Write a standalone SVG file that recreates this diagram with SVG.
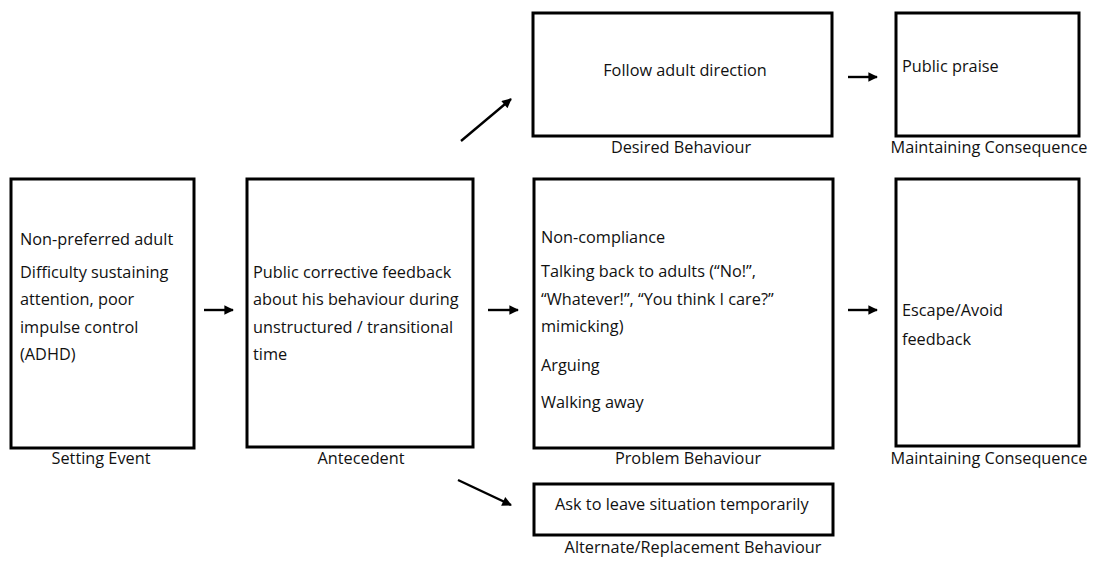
<svg xmlns="http://www.w3.org/2000/svg" width="1094" height="561" viewBox="0 0 1094 561">
<style>
.box{fill:#fff;stroke:#000;stroke-width:3}
text{font-family:"Open Sans","Liberation Sans",sans-serif;font-size:16.3px;fill:#111}
.lbl{text-anchor:middle}
.c{stroke:#000;stroke-width:2.4;fill:none;marker-end:url(#ah)}
</style>
<defs>
<marker id="ah" viewBox="0 0 10 10" refX="9" refY="5" markerWidth="4.5" markerHeight="4" orient="auto" markerUnits="strokeWidth">
<path d="M0,0 L10,5 L0,10 z" fill="#000"/>
</marker>
</defs>
<rect width="1094" height="561" fill="#fff"/>
<g id="setting-event">
<rect class="box" x="11" y="179" width="183" height="269"/>
<text x="20" y="245">Non-preferred adult</text>
<text x="20" y="278">Difficulty sustaining</text>
<text x="20" y="305">attention, poor</text>
<text x="20" y="333">impulse control</text>
<text x="20" y="360">(ADHD)</text>
<text class="lbl" x="101" y="464">Setting Event</text>
</g>
<g id="antecedent">
<rect class="box" x="247" y="179" width="226" height="268"/>
<text x="253" y="278">Public corrective feedback</text>
<text x="253" y="305">about his behaviour during</text>
<text x="253" y="333">unstructured / transitional</text>
<text x="253" y="360">time</text>
<text class="lbl" x="361" y="464">Antecedent</text>
</g>
<g id="problem-behaviour">
<rect class="box" x="534" y="179" width="299" height="269"/>
<text x="541" y="243">Non-compliance</text>
<text x="541" y="277">Talking back to adults (“No!”,</text>
<text x="541" y="305">“Whatever!”, “You think I care?”</text>
<text x="541" y="332">mimicking)</text>
<text x="541" y="371">Arguing</text>
<text x="541" y="408">Walking away</text>
<text class="lbl" x="688" y="464">Problem Behaviour</text>
</g>
<g id="desired-behaviour">
<rect class="box" x="533" y="13" width="299" height="123"/>
<text class="lbl" x="685" y="76">Follow adult direction</text>
<text class="lbl" x="681" y="153">Desired Behaviour</text>
</g>
<g id="consequence-praise">
<rect class="box" x="896" y="13" width="183" height="123"/>
<text x="902" y="72">Public praise</text>
<text class="lbl" x="989" y="153">Maintaining Consequence</text>
</g>
<g id="consequence-escape">
<rect class="box" x="896" y="179" width="183" height="267"/>
<text x="902" y="316">Escape/Avoid</text>
<text x="902" y="345">feedback</text>
<text class="lbl" x="989" y="464">Maintaining Consequence</text>
</g>
<g id="replacement-behaviour">
<rect class="box" x="534" y="484" width="299" height="51"/>
<text x="555" y="510">Ask to leave situation temporarily</text>
<text class="lbl" x="693" y="553">Alternate/Replacement Behaviour</text>
</g>
<g id="connectors">
<line class="c" x1="204" y1="310" x2="233" y2="310"/>
<line class="c" x1="488" y1="310" x2="518" y2="310"/>
<line class="c" x1="848" y1="310" x2="877" y2="310"/>
<line class="c" x1="848" y1="77" x2="877" y2="77"/>
<line class="c" x1="461" y1="141" x2="511" y2="99"/>
<line class="c" x1="458" y1="480" x2="511" y2="505"/>
</g>
</svg>
